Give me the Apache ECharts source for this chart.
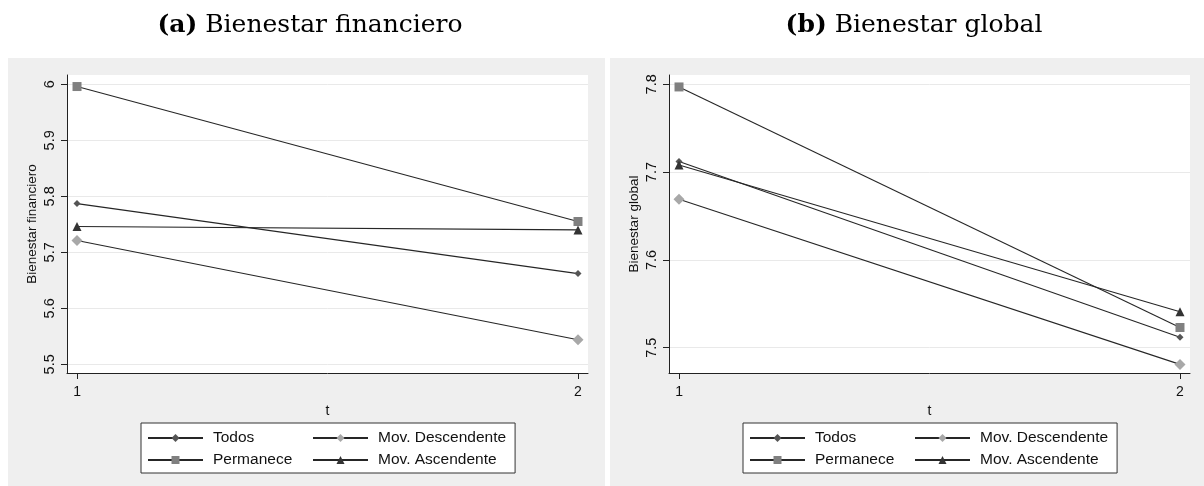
<!DOCTYPE html>
<html><head><meta charset="utf-8">
<script src="https://cdn.jsdelivr.net/npm/echarts@6/dist/echarts.min.js"></script>
<style>html,body{margin:0;padding:0;background:#fff}#c{width:1204px;height:486px}</style>
</head><body><div id="c"></div>
<script>
// ---- data ----
const periods = [1, 2];
const xTicks = [1, 2];
const financieroTodos = [5.787, 5.662];
const financieroPermanece = [5.996, 5.755];
const financieroDescendente = [5.721, 5.544];
const financieroAscendente = [5.746, 5.740];
const globalTodos = [7.712, 7.512];
const globalPermanece = [7.797, 7.523];
const globalDescendente = [7.669, 7.481];
const globalAscendente = [7.708, 7.541];
const financieroTicks = [5.5, 5.6, 5.7, 5.8, 5.9, 6];
const globalTicks = [7.5, 7.6, 7.7, 7.8];

// ---- styles ----
const styles = {
  'Todos': {symbol: 'diamond', size: 7, color: '#555555'},
  'Permanece': {symbol: 'rect', size: 9, color: '#808080'},
  'Mov. Descendente': {symbol: 'diamond', size: 11, color: '#a8a8a8'},
  'Mov. Ascendente': {symbol: 'triangle', size: 9, color: '#333333'}
};
const LINE = '#262626';
const SANS = 'Liberation Sans';

function pairs(vals) { return periods.map((p, i) => [p, vals[i]]); }
function mk(name, vals, idx) {
  const s = styles[name];
  return {
    type: 'line', name: name, xAxisIndex: idx, yAxisIndex: idx,
    data: pairs(vals), symbol: s.symbol, symbolSize: s.size,
    showSymbol: true, animation: false,
    itemStyle: {color: s.color},
    lineStyle: {color: LINE, width: 1.1},
    emphasis: {disabled: true}
  };
}
function xAx(idx) {
  return {
    type: 'value', gridIndex: idx, min: 0.98, max: 2.02,
    name: 't', nameLocation: 'middle', nameGap: 23,
    nameTextStyle: {fontFamily: SANS, fontSize: 14, color: '#111'},
    axisLine: {show: true, onZero: false, lineStyle: {color: '#222', width: 1}},
    axisTick: {show: true, length: 6, customValues: xTicks, lineStyle: {color: '#222'}},
    axisLabel: {customValues: xTicks, margin: 12, fontFamily: SANS, fontSize: 14, color: '#111'},
    splitLine: {show: false}
  };
}
function yAx(idx, min, max, ticks, name) {
  return {
    type: 'value', gridIndex: idx, min: min, max: max,
    name: name, nameLocation: 'middle', nameGap: 28, nameRotate: 90,
    nameTextStyle: {fontFamily: SANS, fontSize: 13.5, color: '#111'},
    axisLine: {show: true, onZero: false, lineStyle: {color: '#222', width: 1}},
    axisTick: {show: true, length: 6, customValues: ticks, lineStyle: {color: '#222'}},
    axisLabel: {customValues: ticks, rotate: 90, margin: 10, fontFamily: SANS, fontSize: 14.5, color: '#111'},
    splitLine: {show: true, lineStyle: {color: '#e9e9e9', width: 1}}
  };
}
function legend(left) {
  const w1 = 93, w2 = 127;
  return {
    left: left, top: 423, width: 380, orient: 'horizontal',
    padding: [7, 9, 5, 6], itemGap: 6, itemWidth: 55, itemHeight: 10,
    backgroundColor: '#ffffff', borderColor: '#333', borderWidth: 1, borderRadius: 0,
    selectedMode: false,
    textStyle: {fontFamily: SANS, fontSize: 15.5, lineHeight: 15, color: '#111', padding: [0, 0, 0, 5]},
    data: [
      {name: 'Todos', textStyle: {width: w1}},
      {name: 'Mov. Descendente', textStyle: {width: w2}},
      {name: 'Permanece', textStyle: {width: w1}},
      {name: 'Mov. Ascendente', textStyle: {width: w2}}
    ]
  };
}
function title(text, left) {
  return {
    text: text, left: left, top: 8, textAlign: 'center',
    textStyle: {
      fontFamily: 'DejaVu Serif', fontSize: 25, fontWeight: 'normal', color: '#000',
      rich: {b: {fontFamily: 'DejaVu Serif', fontSize: 25, fontWeight: 'bold', color: '#000'}}
    }
  };
}

const chart = echarts.init(document.getElementById('c'), null, {renderer: 'canvas'});
chart.setOption({
  animation: false,
  backgroundColor: '#ffffff',
  title: [title('{b|(a)} Bienestar financiero', 305), title('{b|(b)} Bienestar global', 909)],
  graphic: [
    {type: 'rect', z: -10, silent: true, shape: {x: 8, y: 58, width: 597, height: 428}, style: {fill: '#efefef'}},
    {type: 'rect', z: -10, silent: true, shape: {x: 610, y: 58, width: 594, height: 428}, style: {fill: '#efefef'}}
  ],
  grid: [
    {left: 67, top: 75, width: 521, height: 298, show: true, backgroundColor: '#ffffff', borderWidth: 0, containLabel: false},
    {left: 669, top: 75, width: 521, height: 298, show: true, backgroundColor: '#ffffff', borderWidth: 0, containLabel: false}
  ],
  xAxis: [xAx(0), xAx(1)],
  yAxis: [
    yAx(0, 5.4845, 6.0166, financieroTicks, 'Bienestar financiero'),
    yAx(1, 7.4712, 7.8106, globalTicks, 'Bienestar global')
  ],
  legend: [legend(141), legend(743)],
  tooltip: {show: false},
  series: [
    mk('Todos', financieroTodos, 0),
    mk('Permanece', financieroPermanece, 0),
    mk('Mov. Descendente', financieroDescendente, 0),
    mk('Mov. Ascendente', financieroAscendente, 0),
    mk('Todos', globalTodos, 1),
    mk('Permanece', globalPermanece, 1),
    mk('Mov. Descendente', globalDescendente, 1),
    mk('Mov. Ascendente', globalAscendente, 1)
  ]
});
</script>
</body></html>
